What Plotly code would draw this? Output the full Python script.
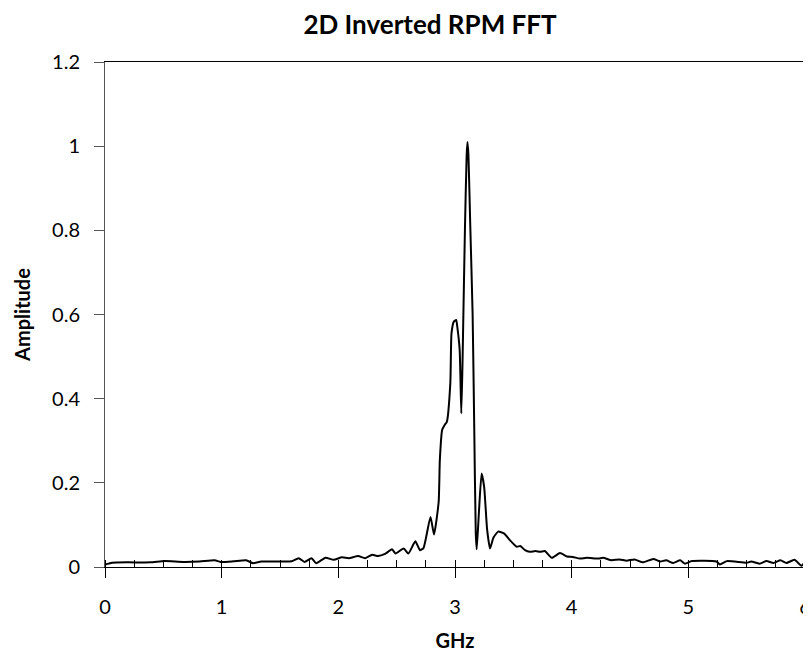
import plotly.graph_objects as go

# frequency (GHz) and amplitude
ghz = [0.0, 0.03, 0.06, 0.19, 0.39, 0.51, 0.67, 0.81, 0.94, 0.99, 1.1, 1.21,
       1.27, 1.34, 1.49, 1.6, 1.66, 1.71, 1.77, 1.81, 1.89, 1.96, 2.03, 2.09,
       2.17, 2.23, 2.29, 2.34, 2.4, 2.46, 2.49, 2.56, 2.6, 2.66, 2.7, 2.73,
       2.79, 2.82, 2.86, 2.87, 2.89, 2.91, 2.93, 2.96, 2.97, 2.99, 3.01, 3.02,
       3.04, 3.054, 3.064, 3.071, 3.085, 3.1, 3.107, 3.115, 3.13, 3.151, 3.165,
       3.178, 3.186, 3.205, 3.228, 3.25, 3.275, 3.3, 3.33, 3.37, 3.42, 3.47,
       3.53, 3.56, 3.6, 3.64, 3.69, 3.73, 3.77, 3.83, 3.9, 3.96, 4.01, 4.07,
       4.13, 4.23, 4.27, 4.34, 4.41, 4.47, 4.54, 4.61, 4.7, 4.76, 4.81, 4.87,
       4.93, 4.97, 5.03, 5.24, 5.27, 5.33, 5.5, 5.54, 5.61, 5.67, 5.73, 5.79,
       5.84, 5.91, 5.97, 6.0]
amplitude = [0.006, 0.008, 0.010, 0.011, 0.011, 0.014, 0.012, 0.013, 0.016, 0.012, 0.0135, 0.016,
             0.009, 0.013, 0.013, 0.0135, 0.021, 0.012, 0.021, 0.009, 0.022, 0.017, 0.023, 0.021,
             0.026, 0.021, 0.029, 0.026, 0.031, 0.042, 0.032, 0.044, 0.032, 0.061, 0.040, 0.045,
             0.119, 0.077, 0.155, 0.254, 0.326, 0.337, 0.345, 0.437, 0.555, 0.583, 0.587, 0.57,
             0.516, 0.365, 0.48, 0.587, 0.80, 0.98, 1.01, 0.98, 0.82, 0.60, 0.33,
             0.08, 0.042, 0.13, 0.222, 0.19, 0.09, 0.044, 0.07, 0.084, 0.08, 0.064,
             0.048, 0.050, 0.040, 0.036, 0.038, 0.036, 0.038, 0.022, 0.033, 0.025, 0.024, 0.020,
             0.022, 0.020, 0.022, 0.016, 0.018, 0.015, 0.018, 0.011, 0.019, 0.013, 0.016, 0.0095,
             0.016, 0.008, 0.014, 0.013, 0.006, 0.014, 0.010, 0.013, 0.008, 0.014, 0.0095, 0.016,
             0.0095, 0.017, 0.003, 0.013]

x_ticks = [0, 1, 2, 3, 4, 5, 6]
y_ticks = [0, 0.2, 0.4, 0.6, 0.8, 1, 1.2]
y_labels = ["0", "0.2", "0.4", "0.6", "0.8", "1", "1.2"]

fig = go.Figure()
fig.add_trace(go.Scatter(x=ghz, y=amplitude, mode="lines",
                         line=dict(color="black", width=2, shape="spline", smoothing=0.5)))

# page body has an 8px margin, so the figure is sized/offset to compensate
fig.update_layout(
    width=803, height=647,
    margin=dict(l=97, r=6, t=54, b=88),
    paper_bgcolor="white", plot_bgcolor="white",
    showlegend=False,
    font=dict(family="Lato", color="black"),
    title=dict(text="<b>2D Inverted RPM FFT</b>", font=dict(size=26, family="Lato"),
               x=(430 - 8) / 803, xref="container", xanchor="center",
               y=1 - 17 / 647, yref="container", yanchor="middle"),
)
fig.update_xaxes(range=[0, 6], tickvals=x_ticks, showgrid=False, zeroline=False,
                 automargin=False,
                 showline=True, linecolor="black", linewidth=1, mirror=True,
                 ticks="outside", ticklen=10, tickcolor="black",
                 minor=dict(ticks="inside", dtick=0.25, ticklen=7, tickcolor="black"),
                 tickfont=dict(size=20), ticklabelstandoff=12,
                 title=dict(text="<b>GHz</b>", font=dict(size=20), standoff=16))
fig.update_yaxes(range=[0, 1.2], tickvals=y_ticks, ticktext=y_labels, showgrid=False,
                 automargin=False,
                 zeroline=False, showline=True, linecolor="#555555", linewidth=1, mirror=True,
                 ticks="outside", ticklen=10, tickcolor="#555555",
                 tickfont=dict(size=20), ticklabelstandoff=10,
                 title=dict(text="<b>Amplitude</b>", font=dict(size=20), standoff=16))

fig.write_html("out.html")
